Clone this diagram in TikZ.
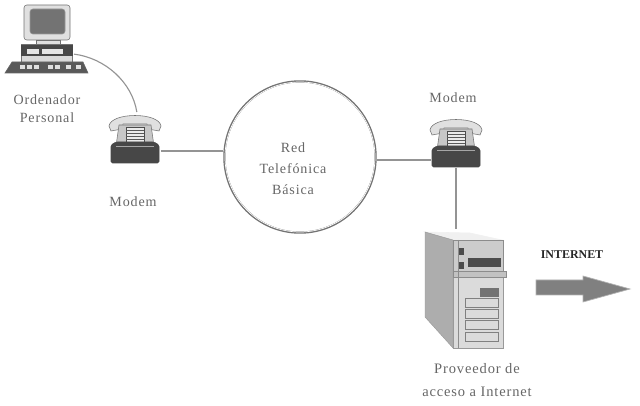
\documentclass[tikz,border=0pt]{standalone}
\usepackage{fontspec}
\setmainfont{Liberation Serif}
\newfontfamily\labelfont[LetterSpace=6]{Liberation Serif}
\tikzset{
  cable/.style={draw=black!42, line width=0.8pt},
  tag/.style={align=center, text=black!60, font=\labelfont\fontsize{10}{12.8}\selectfont},
  widetag/.style={align=center, text=black!60, font=\labelfont\fontsize{10.3}{16}\selectfont},
  redtag/.style={align=center, text=black!60, font=\labelfont\fontsize{10}{15}\selectfont},
  spot/.style={inner sep=0pt, minimum size=1pt},
  dark/.style={fill=black!72, draw=black!72},
  mid/.style={fill=black!45, draw=black!60, line width=0.4pt},
  pale/.style={fill=black!12, draw=black!55, line width=0.4pt},
  phone/.pic={
    \filldraw[pale] (-26,-13) .. controls (-24,-27) and (24,-27) .. (26,-13) -- (24,-8) -- (13,-10) -- (12,-15) -- (-12,-15) -- (-13,-10) -- (-24,-8) -- cycle;
    \filldraw[fill=black!22, draw=black!55, line width=0.4pt] (-16,-14) -- (16,-14) -- (19,7) -- (-19,7) -- cycle;
    \filldraw[fill=black!8, draw=black!70, line width=0.4pt] (-9,-12) rectangle (9,3);
    \foreach \row in {-9,-6,-3,0}
      \draw[black!65, line width=0.6pt] (-9,\row) -- (9,\row);
    \filldraw[dark, rounded corners=1pt] (-24,6) -- (-19,3) -- (19,3) -- (24,6) -- (24,24) -- (-24,24) -- cycle;
    \draw[black!35, line width=0.5pt] (-19,7) -- (19,7);
  },
}
\begin{document}
\begin{tikzpicture}[x=0.025cm, y=-0.025cm]
  \useasboundingbox (0, 0) rectangle (640, 406);
  % computer
  \filldraw[pale, rounded corners=2pt] (24, 5) rectangle (70, 40);
  \filldraw[fill=black!55, draw=black!40, rounded corners=2pt] (30, 9) rectangle (65, 34);
  \filldraw[pale] (36, 40) rectangle (60, 44);
  \filldraw[fill=black!15, draw=black!55] (21, 44) rectangle (72, 63);
  \filldraw[dark] (21, 45) rectangle (72, 55);
  \filldraw[fill=black!10, draw=black!10] (27, 49) rectangle (38, 53);
  \filldraw[fill=black!10, draw=black!10] (42, 49) rectangle (62, 53);
  \filldraw[mid, fill=black!65] (12, 62) -- (83, 62) -- (88, 73) -- (5, 73) -- cycle;
  \foreach \i in {20, 27, 34, 48, 55, 66, 76}
    \filldraw[fill=black!12, draw=black!12] (\i, 65) rectangle (\i + 4, 68);
  \node[spot] (pc) at (73, 54) {};
  \node[tag] (pclabel) at (47, 109) {Ordenador\\Personal};
  % modems
  \pic at (135, 139) {phone};
  \pic at (456, 143) {phone};
  \node[spot] (modemtop) at (137, 113) {};
  \node[spot] (modemleft) at (160, 151) {};
  \node[spot] (modemright) at (432, 160) {};
  \node[spot] (modemdown) at (456, 167) {};
  \node[tag] (leftlabel) at (133, 202) {Modem};
  \node[tag] (rightlabel) at (453, 98) {Modem};
  % network
  \node[circle, draw=black!55, line width=1.6pt, minimum size=3.78cm] (red) at (300, 157) {};
  \draw[white, line width=0.5pt] (red.center) circle [radius=75];
  \node[redtag] (redlabel) at (293, 169) {Red\\Telefónica\\Básica};
  % server
  \filldraw[fill=black!6, draw=black!6] (425, 232) -- (453, 240) -- (502, 240) -- (470, 233) -- cycle;
  \filldraw[fill=black!32, draw=black!40, line width=0.3pt] (425, 232) -- (453, 240) -- (453, 348) -- (425, 317) -- cycle;
  \filldraw[fill=black!14, draw=black!40, line width=0.3pt] (453, 240) -- (503, 240) -- (503, 348) -- (453, 348) -- cycle;
  \filldraw[fill=black!20, draw=black!45, line width=0.3pt] (453, 240) rectangle (503, 271);
  \filldraw[fill=black!24, draw=black!45, line width=0.3pt] (453, 271) rectangle (506, 277);
  \filldraw[fill=black!70, draw=black!70] (468, 258) rectangle (500, 266);
  \filldraw[fill=black!70, draw=black!70] (458, 248) rectangle (463, 254);
  \filldraw[fill=black!70, draw=black!70] (458, 262) rectangle (463, 268);
  \filldraw[fill=black!55, draw=black!55] (480, 288) rectangle (498, 296);
  \foreach \y in {298, 309, 320, 332}
    \filldraw[fill=black!14, draw=black!50, line width=0.3pt] (465, \y) rectangle (498, \y + 9);
  \draw[black!45, line width=0.3pt] (458, 240) -- (458, 348);
  \node[spot] (server) at (456, 230) {};
  \node[widetag] (serverlabel) at (477, 380) {Proveedor de\\acceso a Internet};
  % internet
  \node[text=black!85, font=\fontsize{8.5}{10}\selectfont\bfseries] (internet) at (572, 255) {INTERNET};
  \filldraw[fill=black!50, draw=black!30, line width=0.5pt] (536, 280) -- (583, 280) -- (583, 276) -- (630, 289) -- (583, 302) -- (583, 295) -- (536, 295) -- cycle;
  % connections
  \draw[cable] (pc) .. controls (105, 58) and (132, 82) .. (modemtop);
  \draw[cable] (modemleft) -- (red.west |- modemleft);
  \draw[cable] (modemright) -- (red.east |- modemright);
  \draw[cable] (modemdown) -- (server);
\end{tikzpicture}
\end{document}
